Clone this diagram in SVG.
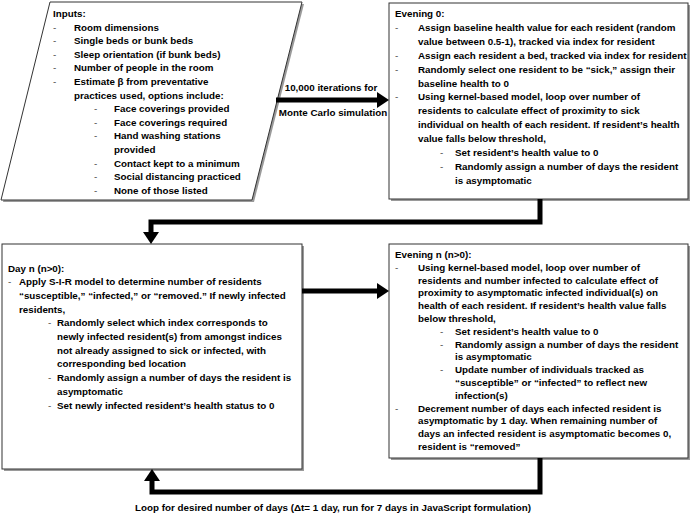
<svg xmlns="http://www.w3.org/2000/svg" width="690" height="516" viewBox="0 0 690 516">
<defs>
<style>
.t{font-family:"Liberation Sans",Arial,sans-serif;font-weight:bold;font-size:9.8px;fill:#000}
.d{font-family:"Liberation Sans",Arial,sans-serif;font-size:9.8px;fill:#444}
.box{fill:#fff;stroke:#333;stroke-width:1}
.sh{fill:#9a9a9a}
.c{fill:none;stroke:#000;stroke-width:5}
.lbl{font-family:"Liberation Sans",Arial,sans-serif;font-weight:bold;font-size:9.8px;fill:#000;text-anchor:middle}
</style>
<marker id="ah" markerUnits="userSpaceOnUse" markerWidth="12" markerHeight="16" refX="0" refY="8" orient="auto" viewBox="0 0 12 16">
<path d="M0,0 L12,8 L0,16 z" fill="#000"/>
</marker>
</defs>
<rect width="690" height="516" fill="#fff"/>

<g id="inputs">
<polygon class="sh" points="52,4 304,4 254,202 3,202"/>
<polygon class="box" points="50,2 302,2 252,200 1,200"/>
<text class="t" x="53" y="17">Inputs:</text>
<text class="d" x="53" y="30.6">-</text><text class="t" x="74" y="30.6">Room dimensions</text>
<text class="d" x="53" y="44.2">-</text><text class="t" x="74" y="44.2">Single beds or bunk beds</text>
<text class="d" x="53" y="57.8">-</text><text class="t" x="74" y="57.8">Sleep orientation (if bunk beds)</text>
<text class="d" x="53" y="71.4">-</text><text class="t" x="74" y="71.4">Number of people in the room</text>
<text class="d" x="53" y="85">-</text><text class="t" x="74" y="85">Estimate β from preventative</text>
<text class="t" x="74" y="98.6">practices used, options include:</text>
<text class="d" x="94" y="112.2">-</text><text class="t" x="114" y="112.2">Face coverings provided</text>
<text class="d" x="94" y="125.8">-</text><text class="t" x="114" y="125.8">Face coverings required</text>
<text class="d" x="94" y="139.4">-</text><text class="t" x="114" y="139.4">Hand washing stations</text>
<text class="t" x="114" y="153">provided</text>
<text class="d" x="94" y="166.6">-</text><text class="t" x="114" y="166.6">Contact kept to a minimum</text>
<text class="d" x="94" y="180.2">-</text><text class="t" x="114" y="180.2">Social distancing practiced</text>
<text class="d" x="94" y="193.8">-</text><text class="t" x="114" y="193.8">None of those listed</text>
</g>

<g id="evening0">
<rect class="sh" x="391" y="5" width="299" height="196"/>
<rect class="box" x="389" y="3" width="299" height="196"/>
<text class="t" x="395" y="17">Evening 0:</text>
<text class="d" x="395" y="30.9">-</text><text class="t" x="418" y="30.9">Assign baseline health value for each resident (random</text>
<text class="t" x="418" y="44.8">value between 0.5-1), tracked via index for resident</text>
<text class="d" x="395" y="58.7">-</text><text class="t" x="418" y="58.7">Assign each resident a bed, tracked via index for resident</text>
<text class="d" x="395" y="72.6">-</text><text class="t" x="418" y="72.6">Randomly select one resident to be “sick,” assign their</text>
<text class="t" x="418" y="86.5">baseline health to 0</text>
<text class="d" x="395" y="100.4">-</text><text class="t" x="418" y="100.4">Using kernel-based model, loop over number of</text>
<text class="t" x="418" y="114.3">residents to calculate effect of proximity to sick</text>
<text class="t" x="418" y="128.2">individual on health of each resident. If resident’s health</text>
<text class="t" x="418" y="142.1">value falls below threshold,</text>
<text class="d" x="440" y="156">-</text><text class="t" x="455" y="156">Set resident’s health value to 0</text>
<text class="d" x="440" y="169.9">-</text><text class="t" x="455" y="169.9">Randomly assign a number of days the resident</text>
<text class="t" x="455" y="183.8">is asymptomatic</text>
</g>

<g id="dayn">
<rect class="sh" x="4" y="246" width="300" height="225"/>
<rect class="box" x="2" y="244" width="300" height="225"/>
<text class="t" x="8" y="271.5">Day n (n&gt;0):</text>
<text class="d" x="8" y="285.2">-</text><text class="t" x="19" y="285.2">Apply S-I-R model to determine number of residents</text>
<text class="t" x="19" y="298.9">“susceptible,” “infected,” or “removed.” If newly infected</text>
<text class="t" x="19" y="312.6">residents,</text>
<text class="d" x="48" y="326.3">-</text><text class="t" x="57" y="326.3">Randomly select which index corresponds to</text>
<text class="t" x="57" y="340">newly infected resident(s) from amongst indices</text>
<text class="t" x="57" y="353.7">not already assigned to sick or infected, with</text>
<text class="t" x="57" y="367.4">corresponding bed location</text>
<text class="d" x="48" y="381.1">-</text><text class="t" x="57" y="381.1">Randomly assign a number of days the resident is</text>
<text class="t" x="57" y="394.8">asymptomatic</text>
<text class="d" x="48" y="408.5">-</text><text class="t" x="57" y="408.5">Set newly infected resident’s health status to 0</text>
</g>

<g id="eveningn">
<rect class="sh" x="391" y="246" width="299" height="214"/>
<rect class="box" x="389" y="244" width="299" height="214"/>
<text class="t" x="395" y="258">Evening n (n&gt;0):</text>
<text class="d" x="395" y="270.8">-</text><text class="t" x="418" y="270.8">Using kernel-based model, loop over number of</text>
<text class="t" x="418" y="283.6">residents and number infected to calculate effect of</text>
<text class="t" x="418" y="296.4">proximity to asymptomatic infected individual(s) on</text>
<text class="t" x="418" y="309.2">health of each resident. If resident’s health value falls</text>
<text class="t" x="418" y="322">below threshold,</text>
<text class="d" x="440" y="334.8">-</text><text class="t" x="455" y="334.8">Set resident’s health value to 0</text>
<text class="d" x="440" y="347.6">-</text><text class="t" x="455" y="347.6">Randomly assign a number of days the resident</text>
<text class="t" x="455" y="360.4">is asymptomatic</text>
<text class="d" x="440" y="373.2">-</text><text class="t" x="455" y="373.2">Update number of individuals tracked as</text>
<text class="t" x="455" y="386">“susceptible” or “infected” to reflect new</text>
<text class="t" x="455" y="398.8">infection(s)</text>
<text class="d" x="395" y="411.6">-</text><text class="t" x="418" y="411.6">Decrement number of days each infected resident is</text>
<text class="t" x="418" y="424.4">asymptomatic by 1 day.  When remaining number of</text>
<text class="t" x="418" y="437.2">days an infected resident is asymptomatic becomes 0,</text>
<text class="t" x="418" y="450">resident is “removed”</text>
</g>

<g id="connectors">
<path class="c" d="M276,100 H377" marker-end="url(#ah)"/>
<path class="c" d="M540,199 V222 H151 V232" marker-end="url(#ah)"/>
<path class="c" d="M302,291 H377" marker-end="url(#ah)"/>
<path class="c" d="M540,458 V492 H152 V481" marker-end="url(#ah)"/>
<text class="lbl" x="331" y="91">10,000 iterations for</text>
<text class="lbl" x="333" y="116">Monte Carlo simulation</text>
<text class="lbl" x="333" y="511">Loop for desired number of days (Δt= 1 day, run for 7 days in JavaScript formulation)</text>
</g>
</svg>
